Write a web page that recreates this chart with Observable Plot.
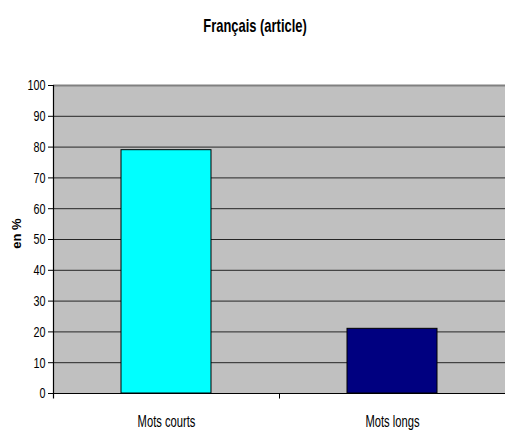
<!DOCTYPE html>
<html>
<head>
<meta charset="utf-8">
<script src="https://cdn.jsdelivr.net/npm/d3@7"></script>
<script src="https://cdn.jsdelivr.net/npm/@observablehq/plot@0.6"></script>
<style>
  html, body { margin: 0; padding: 0; background: #fff; }
  #title { height: 60px; box-sizing: border-box; padding-top: 15px; text-align: center; padding-left: 5px; }
  #title span { display: inline-block; transform: scaleX(0.68); transform-origin: center;
    font-family: "Liberation Sans", Arial, sans-serif; font-weight: bold; font-size: 19px; color: #000; line-height: 22px; }
  #chart svg { display: block; }
</style>
</head>
<body>
<div id="title"><span>Français (article)</span></div>
<div id="chart"></div>
<script>
const categories = ["Mots courts", "Mots longs"];
const values = [79, 21];
const colors = ["#00FFFF", "#000080"];
const yTicks = [0, 10, 20, 30, 40, 50, 60, 70, 80, 90, 100];
const yLabel = "en %";

const data = categories.map((c, i) => ({category: c, value: values[i], color: colors[i]}));
const font = "'Liberation Sans', Arial, sans-serif";

const plot = Plot.plot({
  width: 505,
  height: 377,
  marginTop: 25,
  marginBottom: 44,
  marginLeft: 53,
  marginRight: 0,
  style: {fontFamily: font, fontSize: "15px", color: "#000", background: "transparent"},
  x: {domain: categories, paddingInner: 0.6, paddingOuter: 0.3, label: null},
  y: {domain: [0, 100], ticks: yTicks, label: null},
  marks: [
    Plot.frame({fill: "#C0C0C0", stroke: null}),
    Plot.ruleY(yTicks.filter(t => t > 0 && t < 100), {stroke: "#262626", strokeWidth: 1}),
    Plot.ruleY([100], {stroke: "#808080", strokeWidth: 2}),
    Plot.barY(data, {x: "category", y: "value", fill: "color", stroke: "#000", strokeWidth: 1}),
    Plot.ruleY([0], {stroke: "#000", strokeWidth: 1.2}),
    Plot.ruleX([categories[0]], {x: d => d, y1: -1.8, y2: 100, dx: -113, stroke: "#000", strokeWidth: 1.2}),
    Plot.ruleX([categories[1]], {x: d => d, y1: -1.8, y2: 0, dx: -113, stroke: "#000"}),
    Plot.axisY({ticks: yTicks, tickSize: 5, tickPadding: 3, fontSize: 15, stroke: "#000"}),
    Plot.axisX({tickSize: 0, tickPadding: 22, fontSize: 16}),
    Plot.text([yLabel], {frameAnchor: "left", textAnchor: "middle", dx: -37, dy: -6, rotate: -90, fontWeight: "bold", fontSize: 13, text: d => d})
  ]
});
document.getElementById("chart").appendChild(plot);

function squeeze(sel, s) {
  plot.querySelectorAll(sel).forEach(el => {
    const t = el.getAttribute("transform") || "";
    el.setAttribute("transform", `${t} scale(${s},1)`);
  });
}
squeeze('g[aria-label="y-axis tick label"] text', 0.72);
squeeze('g[aria-label="x-axis tick label"] text', 0.70);
</script>
</body>
</html>
